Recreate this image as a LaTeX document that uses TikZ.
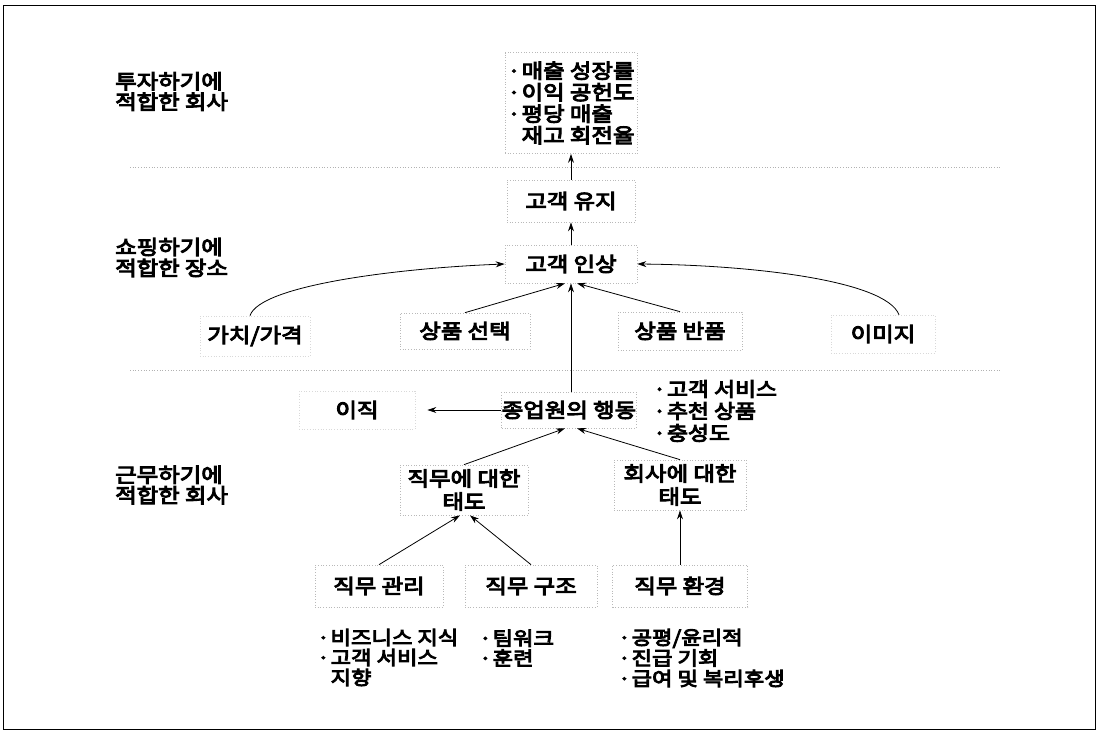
\documentclass[tikz,border=0pt]{standalone}
\usepackage{fontspec}
\newfontfamily\kr{Noto Sans CJK KR}[FakeBold=5, FakeStretch=1.17]
\usetikzlibrary{arrows.meta}
\newcommand{\bl}{·\hspace{1pt}}
\newcommand{\kf}[2]{\kr\fontsize{#1}{#2}\selectfont}
\begin{document}
\begin{tikzpicture}[x=1pt,y=-1pt,
  every node/.style={font=\kf{20}{21}, inner sep=0pt},
  box/.style={draw=gray!55, dotted, line width=0.7pt},
  conn/.style={line width=0.8pt, -{Stealth[length=9pt,width=6pt]}},
  sep/.style={draw=gray!60, dotted, line width=0.7pt}]
\useasboundingbox (0,0) rectangle (1097,731);
\draw[line width=1pt] (3,5) rectangle (1095,729);
% separators
\coordinate (s1a) at (130,167); \coordinate (s1b) at (1000,167);
\coordinate (s2a) at (130,370); \coordinate (s2b) at (1000,370);
\draw[sep] (s1a) -- (s1b);
\draw[sep] (s2a) -- (s2b);
% level labels
\node[anchor=west, align=left, font=\kf{20}{20.5}] (lab1) at (115,91.5) {투자하기에\\적합한 회사};
\node[anchor=west, align=left, font=\kf{20}{21}] (lab2) at (115,257.5) {쇼핑하기에\\적합한 장소};
\node[anchor=west, align=left, font=\kf{20}{20.5}] (lab3) at (115,485) {근무하기에\\적합한 회사};
% boxes
\node[box, minimum width=132pt, minimum height=101pt, align=left, font=\kf{20}{21.5}] (metrics) at (571,103) {\bl 매출 성장률\\\bl 이익 공헌도\\\bl 평당 매출\\\phantom{\bl}재고 회전율};
\node[box, minimum width=128pt, minimum height=42pt] (keep) at (571,201) {고객 유지};
\node[box, minimum width=132pt, minimum height=38pt] (impression) at (571,264) {고객 인상};
\node[box, draw=gray!30, minimum width=110pt, minimum height=40pt] (value) at (255,336) {가치/가격};
\node[box, minimum width=130pt, minimum height=36pt] (select) at (465,331) {상품 선택};
\node[box, minimum width=124pt, minimum height=38pt] (return) at (680,331) {상품 반품};
\node[box, draw=gray!30, minimum width=104pt, minimum height=38pt] (image) at (883,334) {이미지};
\node[box, draw=gray!30, minimum width=116pt, minimum height=38pt] (turnover) at (357,410) {이직};
\node[box, minimum width=127pt, minimum height=36pt] (behavior) at (569,410) {종업원의 행동};
\node[anchor=west, align=left, font=\kf{19.5}{22}] (custlist) at (653,411) {\bl 고객 서비스\\\bl 추천 상품\\\bl 충성도};
\node[box, minimum width=128pt, minimum height=50pt, align=center, font=\kf{20}{23}] (jobatt) at (464,490) {직무에 대한\\태도};
\node[box, minimum width=132pt, minimum height=50pt, align=center, font=\kf{20}{23}] (compatt) at (680,485) {회사에 대한\\태도};
\node[box, minimum width=128pt, minimum height=42pt] (jobmgmt) at (379,586) {직무 관리};
\node[box, minimum width=132pt, minimum height=42pt] (jobstruct) at (531,586) {직무 구조};
\node[box, minimum width=135pt, minimum height=42pt] (jobenv) at (680,586) {직무 환경};
% bullet lists
\node[anchor=west, align=left, font=\kf{19}{20}] (mgmtlist) at (317,657.5) {\bl 비즈니스 지식\\\bl 고객 서비스\\\phantom{\bl}지향};
\node[anchor=west, align=left, font=\kf{19}{20}] (structlist) at (479,648) {\bl 팀워크\\\bl 훈련};
\node[anchor=west, align=left, font=\kf{19}{20.5}] (envlist) at (618,658) {\bl 공평/윤리적\\\bl 진급 기회\\\bl 급여 및 복리후생};
% connectors
\draw[conn] (keep) -- (metrics);
\draw[conn] (impression) -- (keep);
\draw[conn] ([xshift=2pt]behavior.north) -- ([xshift=2pt]behavior.north |- impression.south);
\draw[conn] (select.north) -- ([xshift=-6pt]impression.south);
\draw[conn] (return.north) -- ([xshift=6pt]impression.south);
\draw[conn] ([xshift=-5pt]value.north) .. controls (260,285) and (400,268) .. (impression.west);
\draw[conn] ([xshift=16pt]image.north) .. controls (885,280) and (750,265) .. (impression.east);
\draw[conn, shorten >=12pt] (behavior) -- (turnover);
\draw[conn] (jobatt.north) -- ([xshift=-4pt]behavior.south);
\draw[conn] (compatt.north) -- ([xshift=8pt]behavior.south);
\draw[conn] (jobmgmt.north) -- ([xshift=-4pt]jobatt.south);
\draw[conn] (jobstruct.north) -- ([xshift=6pt]jobatt.south);
\draw[conn] (jobenv) -- (compatt);
\end{tikzpicture}
\end{document}
